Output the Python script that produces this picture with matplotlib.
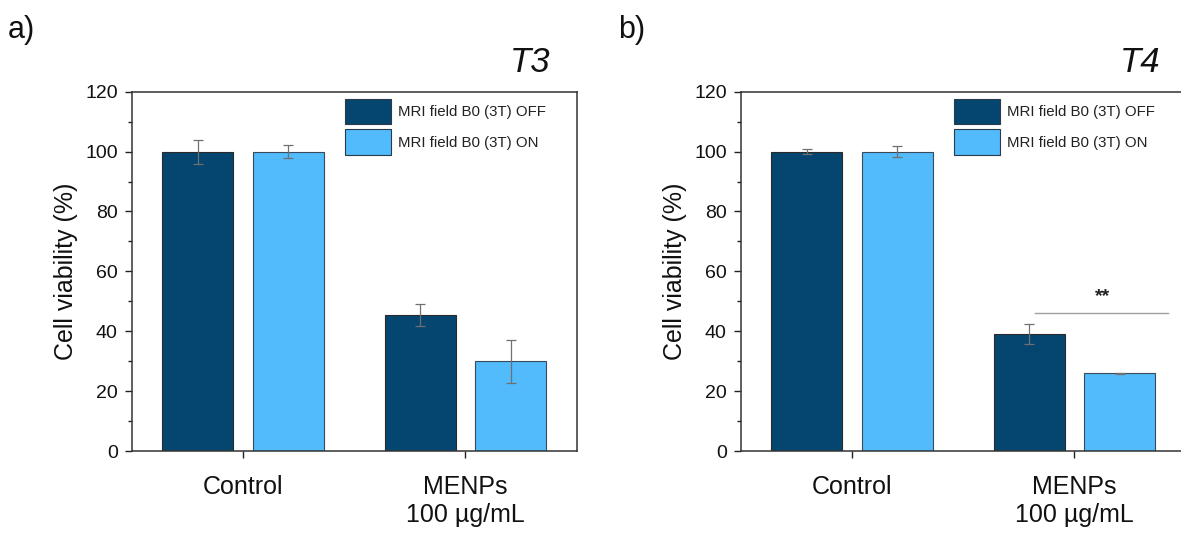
import matplotlib
matplotlib.use("Agg")
import matplotlib.pyplot as plt
from matplotlib.ticker import MultipleLocator
import numpy as np

plt.rcParams['font.family'] = ['Liberation Sans', 'DejaVu Sans']

categories = ["Control", "MENPs\n100 µg/mL"]
series_names = ["MRI field B0 (3T) OFF", "MRI field B0 (3T) ON"]
colors = ["#04466f", "#52bbfc"]

t3_off = [100.0, 45.5]
t3_off_err = [4.0, 3.6]
t3_on = [100.0, 30.0]
t3_on_err = [2.1, 7.2]

t4_off = [100.0, 39.0]
t4_off_err = [0.8, 3.3]
t4_on = [100.0, 26.0]
t4_on_err = [1.9, 0.2]

panel_titles = ["T3", "T4"]
panel_letters = ["a)", "b)"]
yticks = [0, 20, 40, 60, 80, 100, 120]

W, H = 1181, 533
fig = plt.figure(figsize=(W / 100, H / 100), dpi=100)

axes_px = [(131.7, 91.7, 445.0, 359.3), (740.7, 91.7, 445.0, 359.3)]
data = [((t3_off, t3_off_err), (t3_on, t3_on_err)),
        ((t4_off, t4_off_err), (t4_on, t4_on_err))]
title_pos = [(530, 62), (1140, 62)]
letter_pos = [(8, 30), (618, 30)]

x = np.arange(len(categories))
bw = 0.32
off = 0.203

for i, (lx, ty, w, h) in enumerate(axes_px):
    ax = fig.add_axes([lx / W, 1 - (ty + h) / H, w / W, h / H])
    (off_v, off_e), (on_v, on_e) = data[i]
    ax.bar(x - off, off_v, bw, color=colors[0], edgecolor="#2a2a2a", linewidth=0.8,
           label=series_names[0], zorder=2)
    ax.bar(x + off, on_v, bw, color=colors[1], edgecolor="#3a4a5a", linewidth=0.8,
           label=series_names[1], zorder=2)
    ax.errorbar(x - off, off_v, yerr=off_e, fmt="none", ecolor="#707070",
                elinewidth=0.9, capsize=3.5, capthick=0.9, zorder=3)
    ax.errorbar(x + off, on_v, yerr=on_e, fmt="none", ecolor="#707070",
                elinewidth=0.9, capsize=3.5, capthick=0.9, zorder=3)
    ax.set_xlim(-0.5, 1.5)
    ax.set_ylim(0, 120)
    ax.set_yticks(yticks)
    ax.yaxis.set_minor_locator(MultipleLocator(10))
    ax.set_xticks(x)
    ax.set_xticklabels(categories, fontsize=18, linespacing=1.25)
    ax.tick_params(axis="y", which="major", labelsize=14, length=5, width=1.0,
                   direction="out", pad=5, colors="#222222")
    ax.tick_params(axis="y", which="minor", length=3, width=1.0, direction="out",
                   colors="#222222")
    ax.tick_params(axis="x", which="major", length=5, width=1.0, direction="out",
                   pad=12, colors="#222222")
    for lab in ax.get_xticklabels() + ax.get_yticklabels():
        lab.set_color("#111111")
    for sp in ax.spines.values():
        sp.set_linewidth(1.1)
        sp.set_color("#333333")
    ax.set_ylabel("Cell viability (%)", fontsize=18, labelpad=5, color="#111111")
    leg = ax.legend(loc="upper left", bbox_to_anchor=(0.479, 0.98), frameon=False,
                    fontsize=10.8, handlelength=3.1, handleheight=2.25,
                    handletextpad=0.42, labelspacing=0.33, borderpad=0,
                    borderaxespad=0)
    for t in leg.get_texts():
        t.set_color("#222222")
    for p in leg.get_patches():
        p.set_edgecolor("#2a3a4a")
    fig.text(title_pos[i][0] / W, 1 - title_pos[i][1] / H, panel_titles[i],
             fontsize=25, style="italic", ha="center", va="center", color="#111111")
    fig.text(letter_pos[i][0] / W, 1 - letter_pos[i][1] / H, panel_letters[i],
             fontsize=22, ha="left", va="center", color="#111111")
    if i == 1:
        ax.plot([1 - 0.179, 1 + 0.419], [46.1, 46.1], color="#a0a0a0", lw=1.0,
                clip_on=False, zorder=4)
        ax.text(1 + 0.126, 51.5, "**", fontsize=14, fontweight="bold",
                ha="center", va="center", color="#222222")

fig.savefig("out.png", dpi=100)
